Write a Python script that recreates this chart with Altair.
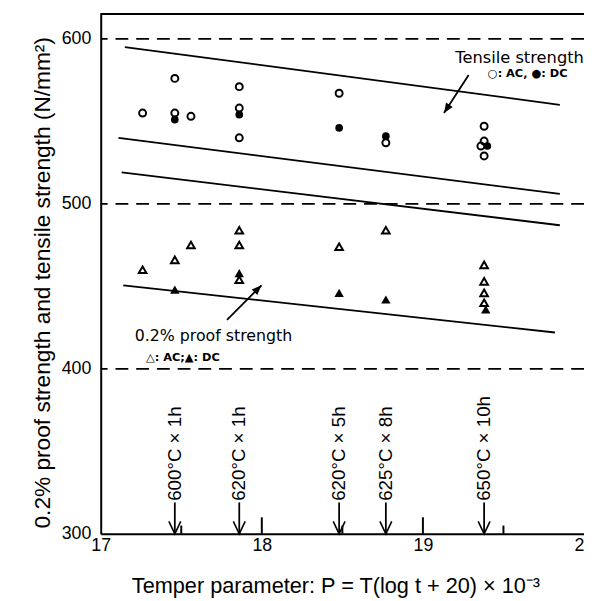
import altair as alt
import pandas as pd

# ---- measured data (P = temper parameter, S = strength N/mm2) ----
open_circle_p = [17.26, 17.46, 17.46, 17.56, 17.86, 17.86, 17.86, 18.48, 18.77, 19.38, 19.38, 19.36, 19.38]
open_circle_s = [555, 576, 555, 553, 571, 558, 540, 567, 537, 547, 538, 535, 529]
fill_circle_p = [17.46, 17.86, 18.48, 18.77, 19.40]
fill_circle_s = [551, 554, 546, 541, 535]
open_tri_p = [17.26, 17.46, 17.56, 17.86, 17.86, 17.86, 18.48, 18.77, 19.38, 19.38, 19.38, 19.38]
open_tri_s = [460, 466, 475, 484, 475, 454, 474, 484, 463, 453, 446, 440]
fill_tri_p = [17.46, 17.86, 18.48, 18.77, 19.39]
fill_tri_s = [448, 458, 446, 442, 436]

# trend / band lines (start and end points)
line_p1 = [17.15, 17.11, 17.13, 17.14]
line_s1 = [595, 540, 519, 450.5]
line_p2 = [19.85, 19.85, 19.85, 19.82]
line_s2 = [560, 506, 487, 422]

# dashed reference levels
ref_levels = [400, 500, 600]

# tempering conditions
cond_labels = ["600°C × 1h", "620°C × 1h", "620°C × 5h", "625°C × 8h", "650°C × 10h"]
cond_p = [17.46, 17.86, 18.48, 18.77, 19.38]

# axis ticks
x_ticks = [17, 18, 19, 20]
y_ticks = [300, 400, 500, 600]
major_inner = [18, 19]
minor_inner = [17.5, 18.5, 19.5]

# annotations
big_text = ["Tensile strength", "0.2% proof strength"]
big_p = [19.60, 17.70]
big_s = [588.5, 420]
big_size = [16.5, 16]
small_text = ["○: AC, ●: DC", "△: AC;▲: DC"]
small_p = [19.65, 17.51]
small_s = [578.8, 406.5]
arrow_p1 = [19.284, 17.784]
arrow_s1 = [578.1, 429.7]
arrow_p2 = [19.131, 17.998]
arrow_s2 = [555.0, 450.6]
arrow_angle = [33, 225]

FONT = "Liberation Sans"
xscale = alt.Scale(domain=[17, 20], nice=False, zero=False)
yscale = alt.Scale(domain=[300, 615], nice=False, zero=False)
xaxis = alt.Axis(values=x_ticks, format="d", ticks=False, labelPadding=3, labelFontSize=18,
                 labelFont=FONT, title="Temper parameter: P = T(log t + 20) × 10⁻³",
                 titleFont=FONT, titleFontSize=22, titleFontWeight="normal",
                 titleX=238, titleY=60, titleBaseline="alphabetic", labelFlush=False,
                 domainWidth=2, domainColor="black", labelColor="black", titleColor="black")
yaxis = alt.Axis(values=y_ticks, format="d", ticks=False, labelPadding=10, labelFontSize=18,
                 labelFont=FONT, title="0.2% proof strength and tensile strength (N/mm²)",
                 titleFont=FONT, titleFontSize=23, titleFontWeight="normal",
                 titleAngle=270, titleX=-52, titleY=272, titleBaseline="alphabetic",
                 domainWidth=2, domainColor="black", labelColor="black", titleColor="black")


def X(f):
    return alt.X(f, type="quantitative", scale=xscale, axis=xaxis)


def Y(f):
    return alt.Y(f, type="quantitative", scale=yscale, axis=yaxis)


oc = pd.DataFrame({"p": open_circle_p, "s": open_circle_s})
fc = pd.DataFrame({"p": fill_circle_p, "s": fill_circle_s})
ot = pd.DataFrame({"p": open_tri_p, "s": open_tri_s})
ft = pd.DataFrame({"p": fill_tri_p, "s": fill_tri_s})
lines = pd.DataFrame({"p": line_p1, "s": line_s1, "p2": line_p2, "s2": line_s2})
refs = pd.DataFrame({"s": ref_levels})
conds = pd.DataFrame({"p": cond_p, "label": cond_labels,
                      "s0": [300] * len(cond_p), "s1": [319] * len(cond_p), "st": [320] * len(cond_p)})
majors = pd.DataFrame({"p": major_inner, "s": [300] * 2, "s2": [310] * 2})
minors = pd.DataFrame({"p": minor_inner, "s": [300] * 3, "s2": [305] * 3})
bigt = pd.DataFrame({"p": big_p, "s": big_s, "t": big_text, "size": big_size})
smallt = pd.DataFrame({"p": small_p, "s": small_s, "t": small_text})
arrows = pd.DataFrame({"p": arrow_p1, "s": arrow_s1, "p2": arrow_p2, "s2": arrow_s2, "ang": arrow_angle})

base_layer = alt.Chart(refs).mark_rule(color="black", strokeWidth=1.8, strokeDash=[13, 8]).encode(y=Y("s"))

top_border = alt.Chart(refs).mark_rule(color="black", strokeWidth=2).encode(
    x=alt.value(0), x2=alt.value(490), y=alt.value(0))

line_layer = alt.Chart(lines).mark_rule(color="black", strokeWidth=1.8).encode(
    x=X("p"), y=Y("s"), x2=alt.X2("p2"), y2=alt.Y2("s2"))

major_layer = alt.Chart(majors).mark_rule(color="black", strokeWidth=2).encode(
    x=X("p"), y=Y("s"), y2=alt.Y2("s2"))
minor_layer = alt.Chart(minors).mark_rule(color="black", strokeWidth=2).encode(
    x=X("p"), y=Y("s"), y2=alt.Y2("s2"))

fc_layer = alt.Chart(fc).mark_point(shape="circle", filled=True, color="black", size=60,
                                    opacity=1).encode(x=X("p"), y=Y("s"))
oc_layer = alt.Chart(oc).mark_point(shape="circle", filled=False, color="black", size=50,
                                    strokeWidth=2, opacity=1).encode(x=X("p"), y=Y("s"))
ft_layer = alt.Chart(ft).mark_point(shape="triangle-up", filled=True, color="black", size=90,
                                    opacity=1).encode(x=X("p"), y=Y("s"))
ot_layer = alt.Chart(ot).mark_point(shape="triangle-up", filled=False, color="black", size=60,
                                    strokeWidth=2, opacity=1).encode(x=X("p"), y=Y("s"))

cond_rule = alt.Chart(conds).mark_rule(color="black", strokeWidth=1.8).encode(
    x=X("p"), y=Y("s0"), y2=alt.Y2("s1"))
cond_head = alt.Chart(conds).mark_point(shape="M-1,-2.1L0,0L1,-2.1", filled=False, color="black",
                                        size=144, strokeWidth=1.6, opacity=1).encode(x=X("p"), y=Y("s0"))
cond_text = alt.Chart(conds).mark_text(angle=270, align="left", baseline="middle", font=FONT,
                                       fontSize=19, color="black").encode(
    x=X("p"), y=Y("st"), text="label:N")

big_layer = alt.Chart(bigt).mark_text(font="DejaVu Sans", color="black", align="center",
                                      baseline="middle").encode(
    x=X("p"), y=Y("s"), text="t:N", size=alt.Size("size:Q", scale=None))
small_layer = alt.Chart(smallt).mark_text(font="DejaVu Sans", fontWeight="bold", fontSize=11.5,
                                          color="black", align="center", baseline="middle").encode(
    x=X("p"), y=Y("s"), text="t:N")

arrow_line = alt.Chart(arrows).mark_rule(color="black", strokeWidth=1.8).encode(
    x=X("p"), y=Y("s"), x2=alt.X2("p2"), y2=alt.Y2("s2"))
arrow_head = alt.Chart(arrows).mark_point(shape="M-1,-2.5L0,0L1,-2.5Z", filled=True, color="black",
                                          size=64, opacity=1).encode(
    x=X("p2"), y=Y("s2"), angle=alt.Angle("ang:Q", scale=None))

chart = alt.layer(
    base_layer, top_border, line_layer, major_layer, minor_layer,
    cond_rule, cond_head, cond_text,
    arrow_line, arrow_head, big_layer, small_layer,
    fc_layer, oc_layer, ft_layer, ot_layer,
).properties(
    width=490, height=527,
    padding={"left": 94, "top": 2, "right": 0, "bottom": 64},
    autosize=alt.AutoSizeParams(type="none"),
    background="white",
).configure_view(stroke=None).configure_axis(grid=False)

chart.save("out.html", embed_options={"renderer": "svg", "actions": False})
